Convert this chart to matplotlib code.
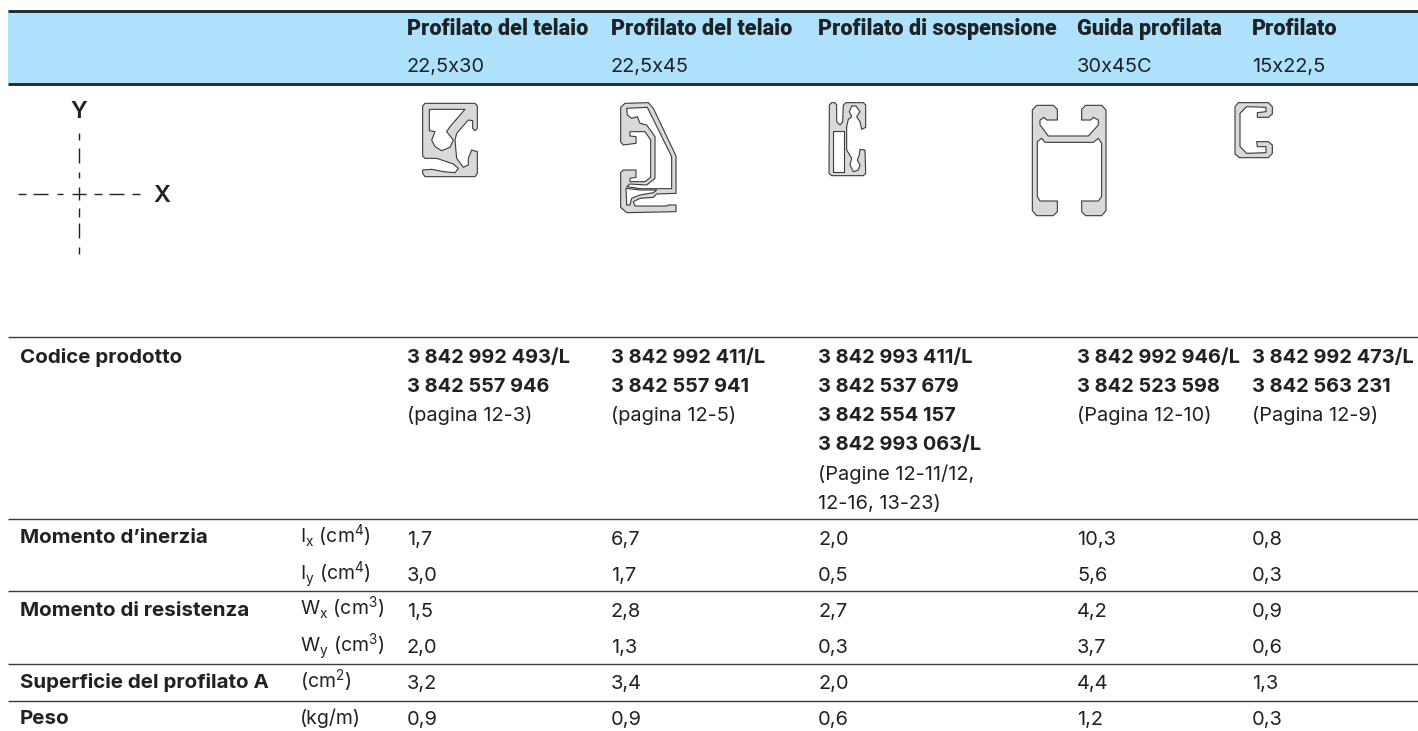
import matplotlib
matplotlib.use("Agg")
import matplotlib.pyplot as plt
from matplotlib.patches import Polygon, Rectangle

plt.rcParams['font.family'] = ['Inter', 'DejaVu Sans']
plt.rcParams['mathtext.default'] = 'regular'

W, H = 1418, 731
col_x = [407, 611, 818, 1077, 1252]
names = ["Profilato del telaio", "Profilato del telaio", "Profilato di sospensione", "Guida profilata", "Profilato"]
sizes = ["22,5x30", "22,5x45", "", "30x45C", "15x22,5"]
codes = [
    ["3 842 992 493/L", "3 842 557 946"],
    ["3 842 992 411/L", "3 842 557 941"],
    ["3 842 993 411/L", "3 842 537 679", "3 842 554 157", "3 842 993 063/L"],
    ["3 842 992 946/L", "3 842 523 598"],
    ["3 842 992 473/L", "3 842 563 231"],
]
pages = [["(pagina 12-3)"], ["(pagina 12-5)"], ["(Pagine 12-11/12,", "12-16, 13-23)"], ["(Pagina 12-10)"], ["(Pagina 12-9)"]]
row_titles = ["Momento d’inerzia", "", "Momento di resistenza", "", "Superficie del profilato A", "Peso"]
row_units = [r"I$_{x}$ (cm$^{4}$)", r"I$_{y}$ (cm$^{4}$)", r"W$_{x}$ (cm$^{3}$)", r"W$_{y}$ (cm$^{3}$)", r"(cm$^{2}$)", "(kg/m)"]
values = [
    ["1,7", "6,7", "2,0", "10,3", "0,8"],
    ["3,0", "1,7", "0,5", "5,6", "0,3"],
    ["1,5", "2,8", "2,7", "4,2", "0,9"],
    ["2,0", "1,3", "0,3", "3,7", "0,6"],
    ["3,2", "3,4", "2,0", "4,4", "1,3"],
    ["0,9", "0,9", "0,6", "1,2", "0,3"],
]
row_base = [543, 580, 616, 652, 688, 724]
code_base = [363, 392, 421, 450, 480, 509]
rules = [337, 519, 591, 664, 701]

fig = plt.figure(figsize=(W / 100, H / 100), dpi=100)
ax = fig.add_axes([0, 0, 1, 1])
ax.set_xlim(0, W)
ax.set_ylim(H, 0)
ax.axis('off')

ink = '#1f2225'
ax.add_patch(Rectangle((8, 11), W - 8, 72, fc='#aee1fb', ec='none'))
ax.plot([8, W], [11, 11], color='#26282a', lw=2.1, solid_capstyle='butt')
ax.plot([8, W], [83.5, 83.5], color='#26282a', lw=2.1, solid_capstyle='butt')
for y in rules:
    ax.plot([8, W], [y, y], color='#3a3a3a', lw=1.0, solid_capstyle='butt')

FS_REG = 14.4
FS_CODE = 14.4
FS_LABEL = 14.8
for x, n, s in zip(col_x, names, sizes):
    ax.text(x, 35, n, family=['Roboto', 'DejaVu Sans'], weight='black', fontsize=15.6, va='baseline', color=ink)
    if s:
        ax.text(x, 72, s, fontsize=FS_REG, va='baseline', color=ink)

ax.text(20, code_base[0], "Codice prodotto", weight='bold', fontsize=FS_LABEL, va='baseline', color=ink)
for x, cs, ps in zip(col_x, codes, pages):
    i = 0
    for c in cs:
        ax.text(x, code_base[i], c, weight='bold', fontsize=FS_CODE, va='baseline', color=ink)
        i += 1
    for p in ps:
        ax.text(x, code_base[i], p, fontsize=FS_REG, va='baseline', color=ink)
        i += 1

for y, t, u, vals in zip(row_base, row_titles, row_units, values):
    if t:
        ax.text(20, y, t, weight='bold', fontsize=FS_LABEL, va='baseline', color=ink)
    ax.text(300, y, u, fontsize=14, va='baseline', color=ink)
    for x, v in zip(col_x, vals):
        ax.text(x, y + 1.5, v, fontsize=FS_REG, va='baseline', color=ink)

# axis glyph
ax.text(79, 118, "Y", weight='semibold', fontsize=17, ha='center', va='baseline', color=ink)
ax.text(162, 202, "X", weight='semibold', fontsize=17, ha='center', va='baseline', color=ink)
for a, b in [(18, 26), (33, 48), (57, 63), (72, 86), (94, 102), (109, 124), (132, 140)]:
    ax.plot([a, b], [193.5, 193.5], color=ink, lw=1.0, solid_capstyle='butt')
for a, b in [(133, 140), (148, 163), (172, 178), (187, 200), (208, 217), (223, 238), (247, 254)]:
    ax.plot([79, 79], [a, b], color=ink, lw=1.0, solid_capstyle='butt')

def shape(ox, oy, pts, fc='#d9d9d9'):
    xy = [(ox + a / 3, oy + b / 3) for a, b in pts]
    ax.add_patch(Polygon(xy, closed=True, fc=fc, ec='#3a3a3a', lw=0.8, joinstyle='round'))

# frame profile 22,5x30
shape(400, 90, [(75,40),(225,40),(232,48),(232,115),(225,122),(218,115),(218,92),(205,90),(170,130),(165,150),(170,205),(190,232),(205,225),(205,205),(215,180),(232,185),(232,250),(225,260),(75,260),(68,250),(68,240),(95,238),(130,245),(165,248),(175,235),(160,222),(125,210),(110,205),(75,205),(68,198),(68,48)])
shape(400, 90, [(88,58),(195,58),(150,110),(140,125),(160,150),(150,172),(125,182),(105,170),(95,150),(105,125),(88,122)], fc='white')
# frame profile 22,5x45
shape(400, 90, [(662,52),(675,40),(745,38),(760,55),(828,198),(828,310),(770,312),(760,322),(720,325),(700,335),(705,348),(800,348),(805,345),(828,345),(828,365),(680,368),(662,352),(662,248),(670,240),(708,240),(708,262),(690,265),(690,275),(735,275),(752,262),(752,150),(735,125),(690,125),(690,138),(708,140),(708,160),(670,165),(662,155)])
shape(400, 90, [(680,55),(742,52),(815,200),(815,296),(720,296),(680,290),(690,282),(740,285),(765,265),(765,140),(740,105),(720,100),(712,80),(695,85),(682,75)], fc='white')
shape(400, 90, [(678,295),(720,300),(770,300),(760,308),(720,315),(695,325),(690,345),(680,345)], fc='white')
# suspension profile
shape(820, 90, [(28,45),(35,38),(45,38),(50,45),(50,95),(60,105),(68,95),(70,45),(78,38),(130,38),(137,45),(137,112),(125,118),(120,95),(110,80),(120,65),(108,48),(95,48),(88,65),(95,80),(85,88),(80,110),(80,180),(95,205),(90,225),(100,245),(115,240),(120,225),(112,210),(118,195),(120,178),(135,180),(137,250),(130,257),(35,257),(27,250)])
shape(820, 90, [(40,122),(72,122),(72,245),(40,245)], fc='white')
# guide profile
shape(820, 90, [(637,60),(650,46),(700,46),(712,58),(712,90),(680,90),(672,82),(660,90),(660,105),(685,138),(805,138),(835,105),(835,90),(820,82),(812,90),(785,90),(785,58),(797,46),(845,46),(858,60),(858,362),(845,377),(797,377),(785,365),(785,333),(835,333),(845,320),(845,160),(835,145),(820,157),(675,157),(665,145),(652,155),(652,320),(660,333),(712,333),(712,365),(700,377),(650,377),(637,362)])
# C profile
shape(820, 90, [(1245,50),(1255,38),(1345,38),(1357,50),(1357,72),(1345,82),(1312,82),(1312,68),(1338,65),(1338,52),(1280,50),(1260,70),(1260,170),(1280,190),(1338,188),(1338,170),(1312,170),(1310,155),(1345,155),(1357,165),(1357,190),(1345,203),(1258,203),(1245,192)])

fig.savefig('out.png', dpi=100)
